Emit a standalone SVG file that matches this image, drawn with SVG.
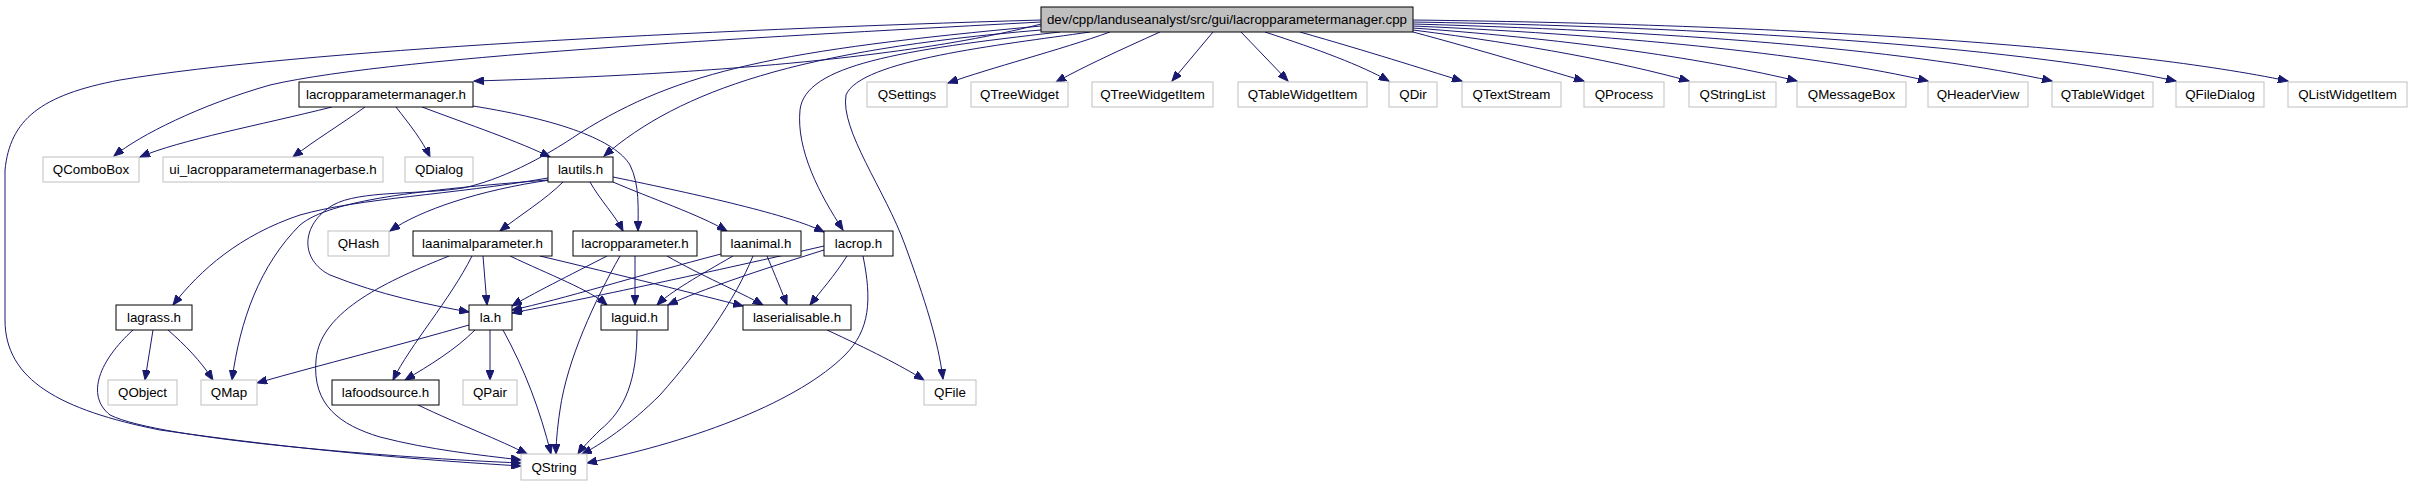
<svg xmlns="http://www.w3.org/2000/svg" width="2411" height="485" viewBox="0 0 2411 485">
<style>
.n rect{fill:#ffffff;stroke:#000000;stroke-width:1}
.g rect{fill:#ffffff;stroke:#bfbfbf;stroke-width:1}
.m rect{fill:#bfbfbf;stroke:#000000;stroke-width:1}
text{font-family:"Liberation Sans",Arial,sans-serif;font-size:13.33px;fill:#000000;text-anchor:middle}
.e path{fill:none;stroke:#191970;stroke-width:1;marker-end:url(#ah)}
</style>
<defs>
<marker id="ah" markerUnits="userSpaceOnUse" markerWidth="11" markerHeight="8" refX="10" refY="4" orient="auto">
<path d="M0,0 L10,4 L0,8 z" fill="#191970" stroke="#191970" stroke-width="1"/>
</marker>
</defs>
<rect width="2411" height="485" fill="#ffffff"/>
<g id="edges" class="e">
<!-- main cpp -->
<path d="M1041,24 C960,45 800,72 474,81"/>
<path d="M1041,22 C800,35 400,55 270,85 C200,105 140,135 114,156"/>
<path d="M1041,20 C700,30 300,50 120,80 C40,95 10,120 5,170 L5,320 C5,380 60,410 160,430 C300,450 420,460 521,466"/>
<path d="M1041,30 C800,50 680,90 604,156"/>
<path d="M1041,26 C780,50 680,70 580,133 C540,160 500,180 463,188 C420,195 360,190 333,205 C300,225 300,260 330,275 C380,295 430,305 469,312"/>
<path d="M1060,32 C900,50 805,65 800,110 C796,150 820,195 843,230"/>
<path d="M1090,32 C1000,45 860,60 846,95 C840,130 885,190 905,245 C925,300 938,340 943,379"/>
<path d="M1110,32 C1060,50 990,68 948,83"/>
<path d="M1160,32 C1120,50 1085,66 1056,82"/>
<path d="M1213,32 L1172,81"/>
<path d="M1241,32 L1288,81"/>
<path d="M1265,32 C1320,50 1360,65 1389,81"/>
<path d="M1300,32 C1370,52 1420,68 1462,81"/>
<path d="M1413,32 C1480,50 1540,68 1584,81"/>
<path d="M1413,30 C1530,45 1620,62 1689,81"/>
<path d="M1413,28 C1580,40 1710,60 1797,81"/>
<path d="M1413,26 C1640,36 1820,56 1928,81"/>
<path d="M1413,24 C1700,32 1920,52 2052,81"/>
<path d="M1413,22 C1760,28 2030,50 2176,81"/>
<path d="M1413,20 C1820,25 2130,48 2288,81"/>
<!-- lacropparametermanager.h -->
<path d="M332,107 C260,125 180,140 140,157"/>
<path d="M365,107 C340,125 315,140 293,157"/>
<path d="M396,107 C410,125 422,140 430,157"/>
<path d="M422,107 C470,125 520,142 550,157"/>
<path d="M473,106 C560,120 615,140 630,165 C640,185 638,210 638,231"/>
<!-- lautils.h -->
<path d="M550,180 C480,190 420,210 390,231"/>
<path d="M563,182 C545,200 520,215 500,231"/>
<path d="M590,182 C600,200 615,215 623,231"/>
<path d="M613,182 C650,198 700,215 727,231"/>
<path d="M613,177 C700,195 790,215 824,232"/>
<path d="M548,178 C450,195 360,198 300,215 C240,235 200,270 173,305"/>
<path d="M548,180 C420,190 330,200 300,225 C260,265 240,320 232,380"/>
<!-- laanimalparameter.h -->
<path d="M483,256 L487,305"/>
<path d="M472,256 C450,300 410,345 393,380"/>
<path d="M510,256 C550,275 590,290 607,305"/>
<path d="M540,256 C620,275 700,295 743,306"/>
<path d="M449,256 C390,280 320,310 316,360 C312,405 340,425 380,437 C430,450 480,455 521,460"/>
<!-- lacropparameter.h -->
<path d="M607,256 C570,275 530,295 512,306"/>
<path d="M635,256 L635,305"/>
<path d="M667,256 C700,275 740,292 763,305"/>
<path d="M620,256 C595,300 567,360 560,410 C557,430 556,445 556,454"/>
<!-- laanimal.h -->
<path d="M721,254 C640,275 560,300 512,310"/>
<path d="M733,256 C700,275 670,292 657,305"/>
<path d="M767,256 C775,275 782,292 787,305"/>
<path d="M753,256 C735,300 700,350 660,395 C630,425 600,445 582,454"/>
<!-- lacrop.h -->
<path d="M824,246 C720,270 580,300 512,313"/>
<path d="M824,250 C760,270 700,290 668,305"/>
<path d="M847,256 C835,275 820,292 810,305"/>
<path d="M863,256 C872,300 870,330 845,355 C800,400 700,440 587,463"/>
<!-- lagrass.h -->
<path d="M153,330 L145,380"/>
<path d="M168,330 C185,345 200,360 213,380"/>
<path d="M133,330 C100,360 85,395 110,415 C160,440 400,458 521,463"/>
<!-- la.h -->
<path d="M469,325 C400,345 320,365 257,383"/>
<path d="M475,330 C455,350 430,365 405,380"/>
<path d="M490,330 L490,380"/>
<path d="M503,330 C525,370 540,410 551,454"/>
<!-- lafoodsource.h -->
<path d="M418,405 C460,425 500,440 527,454"/>
<!-- laguid.h -->
<path d="M637,330 C637,380 625,410 600,430 C590,440 582,448 578,454"/>
<!-- laserialisable.h -->
<path d="M827,330 C870,350 900,365 924,380"/>
</g>
<g id="n_main" class="m"><rect x="1041" y="7" width="372" height="25"/><text x="1227" y="24">dev/cpp/landuseanalyst/src/gui/lacropparametermanager.cpp</text></g>
<g id="n_lacropparametermanager_h" class="n"><rect x="299" y="82" width="174" height="25"/><text x="386" y="99">lacropparametermanager.h</text></g>
<g id="n_QSettings" class="g"><rect x="867" y="82" width="80" height="25"/><text x="907" y="99">QSettings</text></g>
<g id="n_QTreeWidget" class="g"><rect x="971" y="82" width="97" height="25"/><text x="1019.5" y="99">QTreeWidget</text></g>
<g id="n_QTreeWidgetItem" class="g"><rect x="1092" y="82" width="121" height="25"/><text x="1152.5" y="99">QTreeWidgetItem</text></g>
<g id="n_QTableWidgetItem" class="g"><rect x="1238" y="82" width="129" height="25"/><text x="1302.5" y="99">QTableWidgetItem</text></g>
<g id="n_QDir" class="g"><rect x="1389" y="82" width="48" height="25"/><text x="1413" y="99">QDir</text></g>
<g id="n_QTextStream" class="g"><rect x="1462" y="82" width="99" height="25"/><text x="1511.5" y="99">QTextStream</text></g>
<g id="n_QProcess" class="g"><rect x="1584" y="82" width="80" height="25"/><text x="1624" y="99">QProcess</text></g>
<g id="n_QStringList" class="g"><rect x="1689" y="82" width="87" height="25"/><text x="1732.5" y="99">QStringList</text></g>
<g id="n_QMessageBox" class="g"><rect x="1797" y="82" width="109" height="25"/><text x="1851.5" y="99">QMessageBox</text></g>
<g id="n_QHeaderView" class="g"><rect x="1928" y="82" width="100" height="25"/><text x="1978" y="99">QHeaderView</text></g>
<g id="n_QTableWidget" class="g"><rect x="2052" y="82" width="101" height="25"/><text x="2102.5" y="99">QTableWidget</text></g>
<g id="n_QFileDialog" class="g"><rect x="2176" y="82" width="88" height="25"/><text x="2220" y="99">QFileDialog</text></g>
<g id="n_QListWidgetItem" class="g"><rect x="2288" y="82" width="119" height="25"/><text x="2347.5" y="99">QListWidgetItem</text></g>
<g id="n_QComboBox" class="g"><rect x="43" y="157" width="96" height="25"/><text x="91" y="174">QComboBox</text></g>
<g id="n_ui" class="g"><rect x="163" y="157" width="220" height="25"/><text x="273" y="174">ui_lacropparametermanagerbase.h</text></g>
<g id="n_QDialog" class="g"><rect x="405" y="157" width="68" height="25"/><text x="439" y="174">QDialog</text></g>
<g id="n_lautils_h" class="n"><rect x="548" y="157" width="65" height="25"/><text x="580.5" y="174">lautils.h</text></g>
<g id="n_QHash" class="g"><rect x="328" y="231" width="61" height="25"/><text x="358.5" y="248">QHash</text></g>
<g id="n_laanimalparameter_h" class="n"><rect x="413" y="231" width="139" height="25"/><text x="482.5" y="248">laanimalparameter.h</text></g>
<g id="n_lacropparameter_h" class="n"><rect x="573" y="231" width="124" height="25"/><text x="635" y="248">lacropparameter.h</text></g>
<g id="n_laanimal_h" class="n"><rect x="721" y="231" width="80" height="25"/><text x="761" y="248">laanimal.h</text></g>
<g id="n_lacrop_h" class="n"><rect x="824" y="231" width="69" height="25"/><text x="858.5" y="248">lacrop.h</text></g>
<g id="n_lagrass_h" class="n"><rect x="116" y="305" width="76" height="25"/><text x="154" y="322">lagrass.h</text></g>
<g id="n_la_h" class="n"><rect x="469" y="305" width="43" height="25"/><text x="490.5" y="322">la.h</text></g>
<g id="n_laguid_h" class="n"><rect x="601" y="305" width="67" height="25"/><text x="634.5" y="322">laguid.h</text></g>
<g id="n_laserialisable_h" class="n"><rect x="743" y="305" width="108" height="25"/><text x="797" y="322">laserialisable.h</text></g>
<g id="n_QObject" class="g"><rect x="108" y="380" width="69" height="25"/><text x="142.5" y="397">QObject</text></g>
<g id="n_QMap" class="g"><rect x="201" y="380" width="56" height="25"/><text x="229" y="397">QMap</text></g>
<g id="n_lafoodsource_h" class="n"><rect x="332" y="380" width="107" height="25"/><text x="385.5" y="397">lafoodsource.h</text></g>
<g id="n_QPair" class="g"><rect x="463" y="380" width="54" height="25"/><text x="490" y="397">QPair</text></g>
<g id="n_QFile" class="g"><rect x="924" y="380" width="52" height="25"/><text x="950" y="397">QFile</text></g>
<g id="n_QString" class="g"><rect x="521" y="454" width="66" height="26"/><text x="554" y="472">QString</text></g>
</svg>
